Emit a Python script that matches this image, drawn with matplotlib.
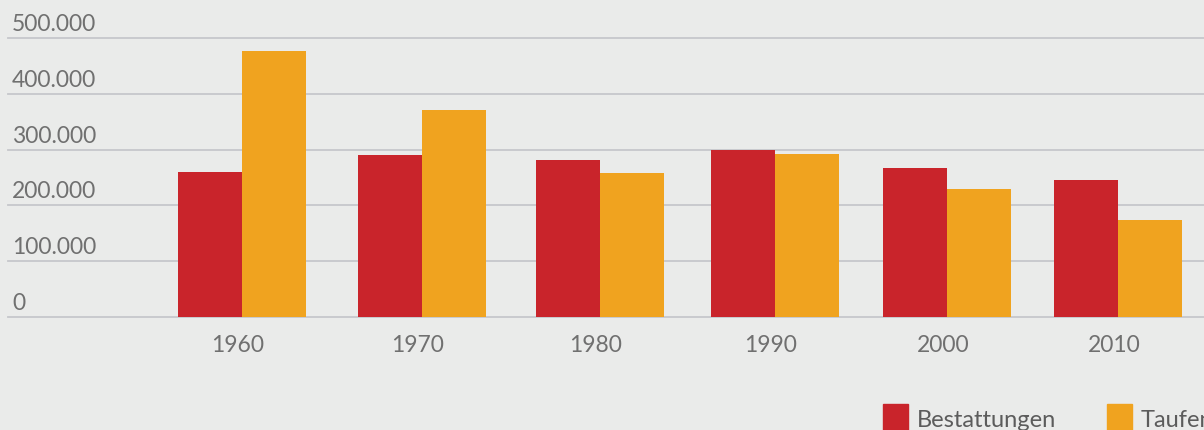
import numpy as np
import matplotlib
matplotlib.use("Agg")
import matplotlib.pyplot as plt
from matplotlib.patches import Rectangle

years = ["1960", "1970", "1980", "1990", "2000", "2010"]
bestattungen = [260000, 290000, 281000, 299000, 267000, 245000]
taufen = [477000, 371000, 258000, 292000, 229000, 174000]
yticks = [0, 100000, 200000, 300000, 400000, 500000]
ylabels = ["0", "100.000", "200.000", "300.000", "400.000", "500.000"]

RED = "#c9242b"
ORANGE = "#f0a31f"
BG = "#eaebea"
GRID = "#c6c7cb"
TXT = "#707070"

W, H = 1204, 431
fig = plt.figure(figsize=(W / 100, H / 100), dpi=100, facecolor=BG)

# axes in pixel terms: gridlines from x=8 to the right edge, 0 at y=318, 500k at y=39
ax = fig.add_axes([8 / W, 1 - 318 / H, (W - 8) / W, (318 - 39) / H])
ax.set_facecolor("none")
for s in ax.spines.values():
    s.set_visible(False)

# x axis in pixels, group centres as in the original layout
ax.set_xlim(8, W)
ax.set_ylim(0, 500000)
x = np.array([242, 422, 600, 775, 947, 1118])
bw = 64
ax.bar(x - bw / 2, bestattungen, width=bw, color=RED, zorder=3, linewidth=0)
ax.bar(x + bw / 2, taufen, width=bw, color=ORANGE, zorder=3, linewidth=0)

for v, lab in zip(yticks, ylabels):
    ax.axhline(v, color=GRID, lw=1.3, zorder=1, clip_on=False)
    ax.annotate(lab, xy=(0, v), xycoords=("axes fraction", "data"),
                xytext=(4, 8), textcoords="offset pixels",
                ha="left", va="baseline", fontsize=16.5, color=TXT,
                family="Lato")

ax.set_yticks([])
ax.set_xticks(x - 4)
ax.set_xticklabels(years, fontsize=16.5, color=TXT, family="Lato")
ax.tick_params(axis="x", length=0, pad=12)

# legend, clipped at the bottom/right like the original
for x0, col, lab in [(883, RED, "Bestattungen"), (1107, ORANGE, "Taufen")]:
    fig.patches.append(Rectangle((x0 / W, -0.05), 25 / W, 0.05 + 1 - 405 / H,
                                 transform=fig.transFigure, color=col))
    fig.text((x0 + 34) / W, 1 - 427 / H, lab, fontsize=17, color="#5c5c5c",
             family="Lato", va="baseline", ha="left")

fig.savefig("out.png", dpi=100, facecolor=BG)
